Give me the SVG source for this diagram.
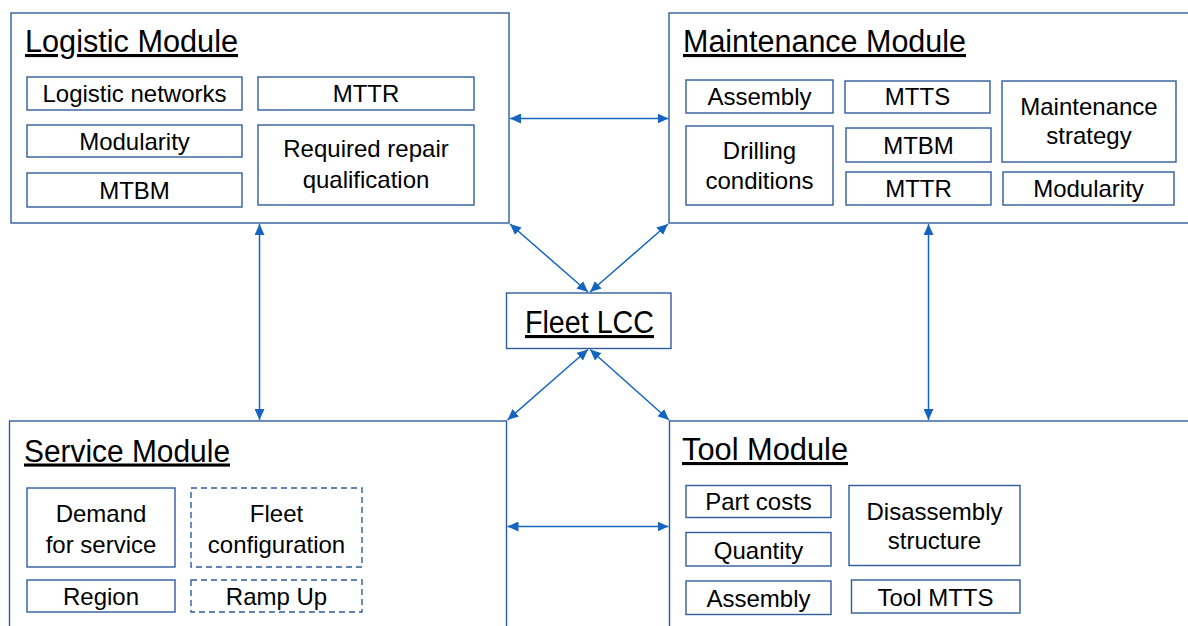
<svg xmlns="http://www.w3.org/2000/svg" width="1188" height="626" viewBox="0 0 1188 626">
<style>
.mod{fill:#ffffff;stroke:#2F5C9C;stroke-width:1.4}
.box{fill:#ffffff;stroke:#2F5C9C;stroke-width:1.4}
.dash{fill:#ffffff;stroke:#2F5C9C;stroke-width:1.4;stroke-dasharray:6 4}
.t{font-family:"Liberation Sans",Arial,sans-serif;font-size:24px;fill:#000;text-anchor:middle}
.h{font-family:"Liberation Sans",Arial,sans-serif;font-size:31px;fill:#000;text-decoration:underline}
.c{stroke:#1565C0;stroke-width:1.5;fill:none;marker-start:url(#ah);marker-end:url(#ah)}
</style>
<defs>
<marker id="ah" markerUnits="userSpaceOnUse" markerWidth="11" markerHeight="10" refX="11" refY="5" orient="auto-start-reverse">
<path d="M0,0 L11,5 L0,10 z" fill="#1565C0"/>
</marker>
</defs>
<rect width="1188" height="626" fill="#ffffff"/>

<g id="logistic">
<rect class="mod" x="11" y="13" width="498" height="210"/>
<text class="h" x="25" y="52" textLength="213" lengthAdjust="spacingAndGlyphs">Logistic Module</text>
<rect class="box" x="27" y="77" width="215" height="33"/>
<text class="t" x="134.5" y="102">Logistic networks</text>
<rect class="box" x="258" y="77" width="216" height="33"/>
<text class="t" x="366" y="102">MTTR</text>
<rect class="box" x="27" y="125" width="215" height="32"/>
<text class="t" x="134.5" y="149.5">Modularity</text>
<rect class="box" x="258" y="125" width="216" height="80"/>
<text class="t" x="366" y="157">Required repair</text>
<text class="t" x="366" y="188">qualification</text>
<rect class="box" x="27" y="173" width="215" height="34"/>
<text class="t" x="134.5" y="198.5">MTBM</text>
</g>

<g id="maintenance">
<rect class="mod" x="669" y="13" width="530" height="210"/>
<text class="h" x="683" y="52" textLength="283" lengthAdjust="spacingAndGlyphs">Maintenance Module</text>
<rect class="box" x="686" y="80" width="147" height="33"/>
<text class="t" x="759.5" y="105">Assembly</text>
<rect class="box" x="845" y="81" width="145" height="32"/>
<text class="t" x="917.5" y="105">MTTS</text>
<rect class="box" x="1002" y="81" width="174" height="81"/>
<text class="t" x="1089" y="115">Maintenance</text>
<text class="t" x="1089" y="143.5">strategy</text>
<rect class="box" x="686" y="126" width="147" height="79"/>
<text class="t" x="759.5" y="158.5">Drilling</text>
<text class="t" x="759.5" y="188.5">conditions</text>
<rect class="box" x="846" y="128" width="145" height="34"/>
<text class="t" x="918.5" y="153.5">MTBM</text>
<rect class="box" x="846" y="172" width="145" height="33"/>
<text class="t" x="918.5" y="197">MTTR</text>
<rect class="box" x="1003" y="172" width="171" height="33"/>
<text class="t" x="1088.5" y="197">Modularity</text>
</g>

<g id="fleet-lcc">
<rect class="box" x="506.5" y="293" width="164.5" height="55.5"/>
<text class="h" x="525" y="333" textLength="129" lengthAdjust="spacingAndGlyphs">Fleet LCC</text>
</g>

<g id="service">
<rect class="mod" x="9.5" y="421" width="497" height="220"/>
<text class="h" x="24" y="461.5" textLength="206" lengthAdjust="spacingAndGlyphs">Service Module</text>
<rect class="box" x="27" y="488" width="148" height="79"/>
<text class="t" x="101" y="522">Demand</text>
<text class="t" x="101" y="552.5">for service</text>
<rect class="dash" x="191" y="488" width="171" height="79"/>
<text class="t" x="276.5" y="522">Fleet</text>
<text class="t" x="276.5" y="552.5">configuration</text>
<rect class="box" x="27" y="580" width="148" height="32"/>
<text class="t" x="101" y="605">Region</text>
<rect class="dash" x="191" y="580" width="171" height="32"/>
<text class="t" x="276.5" y="605">Ramp Up</text>
</g>

<g id="tool">
<rect class="mod" x="669.5" y="421" width="530" height="220"/>
<text class="h" x="682" y="460" textLength="166" lengthAdjust="spacingAndGlyphs">Tool Module</text>
<rect class="box" x="686" y="485.5" width="145" height="32"/>
<text class="t" x="758.5" y="510">Part costs</text>
<rect class="box" x="686" y="532.5" width="145" height="33.5"/>
<text class="t" x="758.5" y="558.5">Quantity</text>
<rect class="box" x="686" y="581" width="145" height="33.5"/>
<text class="t" x="758.5" y="606.5">Assembly</text>
<rect class="box" x="849" y="485.5" width="171" height="80"/>
<text class="t" x="934.5" y="520">Disassembly</text>
<text class="t" x="934.5" y="548.5">structure</text>
<rect class="box" x="851.5" y="580" width="168.5" height="33"/>
<text class="t" x="935.5" y="606">Tool MTTS</text>
</g>

<g id="connectors">
<line class="c" x1="510" y1="118.5" x2="668.5" y2="118.5"/>
<line class="c" x1="259.5" y1="224" x2="259.5" y2="420"/>
<line class="c" x1="928.5" y1="224" x2="928.5" y2="420"/>
<line class="c" x1="507.5" y1="526.5" x2="668.5" y2="526.5"/>
<line class="c" x1="510" y1="224" x2="588" y2="292"/>
<line class="c" x1="668" y1="224" x2="590" y2="292"/>
<line class="c" x1="588" y1="349.5" x2="507.5" y2="420"/>
<line class="c" x1="590" y1="349.5" x2="669" y2="420"/>
</g>
</svg>
